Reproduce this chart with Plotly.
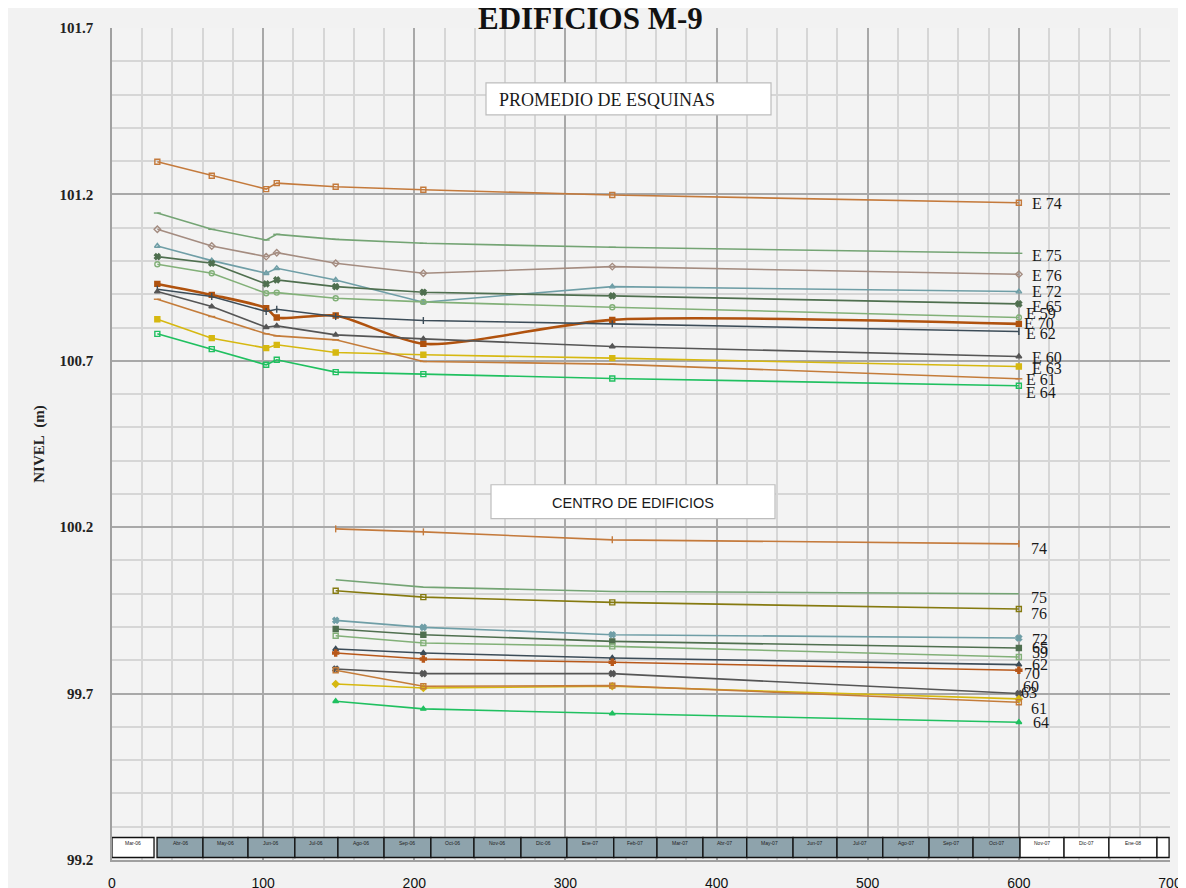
import plotly.graph_objects as go

# ---------------- DATA ----------------
x_esq = [30, 66, 102, 109, 148, 206, 331, 600]
x_cen = [148, 206, 331, 600]

e74 = [101.298, 101.256, 101.216, 101.234, 101.223, 101.214, 101.198, 101.175]
e75 = [101.144, 101.095, 101.063, 101.080, 101.065, 101.053, 101.041, 101.023]
e76 = [101.095, 101.045, 101.013, 101.025, 100.993, 100.963, 100.983, 100.960]
e72 = [101.045, 101.001, 100.963, 100.978, 100.943, 100.876, 100.923, 100.908]
e65 = [101.013, 100.993, 100.931, 100.943, 100.923, 100.906, 100.895, 100.871]
e59 = [100.990, 100.963, 100.903, 100.905, 100.888, 100.877, 100.861, 100.830]
e70 = [100.931, 100.898, 100.858, 100.830, 100.836, 100.751, 100.823, 100.811]
e62 = [100.915, 100.893, 100.848, 100.855, 100.833, 100.821, 100.811, 100.788]
e60 = [100.908, 100.863, 100.801, 100.805, 100.778, 100.766, 100.743, 100.713]
e61 = [100.885, 100.833, 100.781, 100.775, 100.763, 100.698, 100.690, 100.646]
e63 = [100.825, 100.768, 100.738, 100.748, 100.725, 100.718, 100.708, 100.683]
e64 = [100.781, 100.735, 100.688, 100.703, 100.666, 100.660, 100.647, 100.625]

c74 = [100.195, 100.186, 100.162, 100.150]
c75 = [100.042, 100.020, 100.007, 100.000]
c76 = [100.009, 99.990, 99.974, 99.954]
c72 = [99.920, 99.899, 99.877, 99.867]
c65 = [99.894, 99.877, 99.857, 99.837]
c59 = [99.874, 99.852, 99.842, 99.810]
c62 = [99.834, 99.822, 99.807, 99.787]
c70 = [99.822, 99.804, 99.794, 99.770]
c60 = [99.774, 99.760, 99.760, 99.700]
c61 = [99.770, 99.722, 99.724, 99.674]
c63 = [99.729, 99.717, 99.722, 99.684]
c64 = [99.677, 99.654, 99.640, 99.614]

esq_labels = ["E 74", "E 75", "E 76", "E 72", "E 65", "E 59", "E 70", "E 62", "E 60", "E 63", "E 61", "E 64"]
cen_labels = ["74", "75", "76", "72", "65", "59", "62", "70", "60", "63", "61", "64"]

months = ["Mar-06", "Abr-06", "May-06", "Jun-06", "Jul-06", "Ago-06", "Sep-06", "Oct-06",
          "Nov-06", "Dic-06", "Ene-07", "Feb-07", "Mar-07", "Abr-07", "May-07", "Jun-07",
          "Jul-07", "Ago-07", "Sep-07", "Oct-07", "Nov-07", "Dic-07", "Ene-08", ""]
month_start = [0, 29.8, 60.2, 90, 121, 149.5, 180, 211, 239.5, 270.6, 301, 332, 360.6, 391,
               420, 450.6, 479.7, 510, 540.6, 569.7, 600.8, 629.9, 659.6, 691.4]
month_end = [27.8, 60.2, 90, 121, 149.5, 180, 211, 239.5, 270.6, 301, 332, 360.6, 391, 420,
             450.6, 479.7, 510, 540.6, 569.7, 600.8, 629.9, 659.6, 691.4, 699.4]

x_ticks = [0, 100, 200, 300, 400, 500, 600, 700]
y_ticks = [99.2, 99.7, 100.2, 100.7, 101.2, 101.7]

# ---------------- STYLES ----------------
OFF = 8                      # page body margin
W, H = 1178, 880             # figure size inside the page
ML, MR, MT, MB = 104, 16, 20, 27.5

esq_series = [e74, e75, e76, e72, e65, e59, e70, e62, e60, e63, e61, e64]
cen_series = [c74, c75, c76, c72, c65, c59, c62, c70, c60, c63, c61, c64]

esq_colors = ["#c47a3c", "#74a474", "#a48c80", "#6f9ea6", "#4f6f4f", "#82b078",
              "#b0520e", "#3c4c58", "#555555", "#d6b810", "#c47c3a", "#20c060"]
cen_colors = ["#c47a3c", "#74a474", "#857a10", "#6f9ea6", "#4f6f4f", "#82b078",
              "#3c4c58", "#b8581a", "#555555", "#d6b810", "#c47c3a", "#20c060"]
esq_symbols = ["square-open", "line-ew", "diamond-open", "triangle-up-open", "x", "circle-open",
               "square", "line-ns", "triangle-up", "square", "line-ew", "square-open"]
cen_symbols = ["line-ns", None, "square-open", "x", "square", "square-open",
               "triangle-up", "cross", "x", "diamond", "square-open", "triangle-up"]
esq_widths = [1.6] * 12
esq_widths[6] = 2.6

esq_lab_dx = [11, 11, 11, 11, 11, 5, 3, 5, 11, 11, 5, 5]
esq_lab_dy = [-1, -2, -1, 0, -3, 4, 0, -2, -1, -2, -1, -7]
cen_lab_dx = [10, 10, 10, 11, 11, 11, 11, 3, 2, 0, 10, 12]
cen_lab_dy = [-5, -4, -4, -1, 1, 4, 0, -3, 7, 6, -6, 0]

fig = go.Figure()

for i, ys in enumerate(esq_series):
    fig.add_trace(go.Scatter(
        x=x_esq, y=ys, mode="lines+markers", name=esq_labels[i],
        line=dict(color=esq_colors[i], width=esq_widths[i],
                  shape="spline" if i == 6 else "linear", smoothing=0.7),
        marker=dict(symbol=esq_symbols[i], size=5, color=esq_colors[i],
                    line=dict(color=esq_colors[i], width=1.4)),
        showlegend=False, hoverinfo="skip"))

for i, ys in enumerate(cen_series):
    sym = cen_symbols[i]
    fig.add_trace(go.Scatter(
        x=x_cen, y=ys, mode="lines+markers" if sym else "lines", name=cen_labels[i],
        line=dict(color=cen_colors[i], width=1.6),
        marker=dict(symbol=sym or "circle", size=5, color=cen_colors[i],
                    line=dict(color=cen_colors[i], width=1.4)),
        showlegend=False, hoverinfo="skip"))

annotations = []
for i, ys in enumerate(esq_series):
    annotations.append(dict(x=x_esq[-1], y=ys[-1], xref="x", yref="y", text=esq_labels[i],
                            showarrow=False, xanchor="left", yanchor="middle",
                            xshift=esq_lab_dx[i], yshift=esq_lab_dy[i],
                            font=dict(family="Liberation Serif", size=16, color="#1a1a1a")))
for i, ys in enumerate(cen_series):
    annotations.append(dict(x=x_cen[-1], y=ys[-1], xref="x", yref="y", text=cen_labels[i],
                            showarrow=False, xanchor="left", yanchor="middle",
                            xshift=cen_lab_dx[i], yshift=cen_lab_dy[i],
                            font=dict(family="Liberation Serif", size=16, color="#1a1a1a")))


def px_x(px):
    """page pixel x -> paper coordinate"""
    return (px - OFF - ML) / (W - ML - MR)


def px_y(py):
    """page pixel y -> paper coordinate"""
    return (H - MB - (py - OFF)) / (H - MT - MB)


shapes = []
# text boxes
shapes.append(dict(type="rect", xref="paper", yref="paper", x0=px_x(486), x1=px_x(771),
                   y0=px_y(115), y1=px_y(83), fillcolor="white", line=dict(color="#bdbdbd", width=1.2)))
annotations.append(dict(x=px_x(497), y=px_y(100), xref="paper", yref="paper",
                        text="PROMEDIO DE ESQUINAS", showarrow=False, xanchor="left", yanchor="middle",
                        font=dict(family="Liberation Serif", size=18, color="#1a1a1a")))
shapes.append(dict(type="rect", xref="paper", yref="paper", x0=px_x(491), x1=px_x(775),
                   y0=px_y(519), y1=px_y(485), fillcolor="white", line=dict(color="#bdbdbd", width=1.2)))
annotations.append(dict(x=px_x(633), y=px_y(503), xref="paper", yref="paper",
                        text="CENTRO DE EDIFICIOS", showarrow=False, xanchor="center", yanchor="middle",
                        font=dict(family="Liberation Sans", size=14.5, color="#1a1a1a")))

# month strip
strip_y0 = px_y(858)
strip_y1 = px_y(838)
for i, lab in enumerate(months):
    white = (i == 0) or (i >= 20)
    shapes.append(dict(type="rect", xref="x", yref="paper", x0=month_start[i], x1=month_end[i],
                       y0=strip_y0, y1=strip_y1,
                       fillcolor="white" if white else "#8ea3ac",
                       line=dict(color="#111111", width=1.3)))
    if lab:
        annotations.append(dict(x=(month_start[i] + month_end[i]) / 2, y=(strip_y0 + strip_y1) / 2,
                                xref="x", yref="paper", text=lab, showarrow=False,
                                font=dict(family="Liberation Sans", size=5, color="#222222")))

# title and y-axis title
annotations.append(dict(x=px_x(590), y=px_y(18), xref="paper", yref="paper", text="<b>EDIFICIOS M-9</b>",
                        showarrow=False, xanchor="center", yanchor="middle",
                        font=dict(family="Liberation Serif", size=31, color="#111111")))
annotations.append(dict(x=px_x(40), y=px_y(444), xref="paper", yref="paper", text="<b>NIVEL&nbsp; (m)</b>",
                        showarrow=False, textangle=-90, xanchor="center", yanchor="middle",
                        font=dict(family="Liberation Serif", size=15, color="#222222")))

fig.update_layout(
    width=W, height=H,
    margin=dict(l=ML, r=MR, t=MT, b=MB, autoexpand=False),
    paper_bgcolor="#f2f2f2", plot_bgcolor="#f3f3f3",
    showlegend=False,
    shapes=shapes, annotations=annotations,
    xaxis=dict(range=[0, 700], tickvals=x_ticks, ticktext=[str(v) for v in x_ticks],
               showgrid=True, gridcolor="#a8a8a8", gridwidth=1.6,
               minor=dict(dtick=20, showgrid=True, gridcolor="#d6d6d6", gridwidth=1.5),
               zeroline=False, showline=True, linecolor="#a0a0a0", linewidth=1.6,
               ticks="", ticklabelstandoff=9,
               tickfont=dict(family="Liberation Sans", size=14, color="#111111")),
    yaxis=dict(range=[99.2, 101.7], tickvals=y_ticks, ticktext=[f"{v:.1f}" for v in y_ticks],
               showgrid=True, gridcolor="#a8a8a8", gridwidth=1.6,
               minor=dict(dtick=0.1, tick0=99.2, showgrid=True, gridcolor="#d6d6d6", gridwidth=1.5),
               zeroline=False, showline=True, linecolor="#a0a0a0", linewidth=1.6,
               ticks="", ticklabelstandoff=14,
               tickfont=dict(family="Liberation Serif", size=15, color="#222222", weight="bold")),
)

fig.write_html("out.html")
